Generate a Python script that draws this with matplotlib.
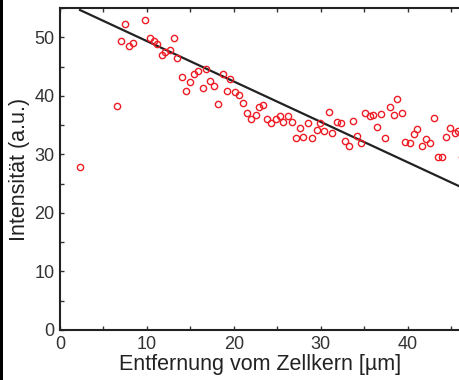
import matplotlib
matplotlib.use("Agg")
import matplotlib.pyplot as plt
from matplotlib.patches import Rectangle
from matplotlib.ticker import MultipleLocator
import numpy as np

plt.rcParams['font.family'] = ['Liberation Sans', 'DejaVu Sans']

# Data
dist_um = [2.3, 6.5, 7.0, 7.5, 7.9, 8.4, 9.8, 10.3, 10.8, 11.2, 11.7, 12.1, 12.6, 13.1,
           13.5, 14.0, 14.5, 14.9, 15.4, 15.9, 16.4, 16.8, 17.3, 17.7, 18.2, 18.7, 19.2,
           19.6, 20.1, 20.6, 21.0, 21.5, 22.0, 22.5, 22.9, 23.4, 23.8, 24.3, 24.8, 25.3,
           25.7, 26.2, 26.7, 27.1, 27.6, 28.0, 28.5, 29.0, 29.5, 29.9, 30.4, 30.9, 31.3,
           31.8, 32.3, 32.8, 33.2, 33.7, 34.1, 34.6, 35.1, 35.6, 36.0, 36.5, 36.9, 37.4,
           37.9, 38.4, 38.8, 39.3, 39.7, 40.2, 40.7, 41.1, 41.6, 42.1, 42.6, 43.0, 43.5,
           43.9, 44.4, 44.9, 45.4, 45.8, 46.2]
intensity = [27.8, 38.2, 49.4, 52.3, 48.5, 49.1, 52.9, 49.9, 49.3, 48.9, 46.9, 47.5, 47.8, 49.8,
             46.5, 43.2, 40.8, 42.3, 43.8, 44.3, 41.3, 44.5, 42.5, 41.7, 38.6, 43.8, 40.9,
             42.9, 40.6, 40.2, 38.7, 37.1, 36.1, 36.7, 38.1, 38.4, 36.1, 35.4, 36.0, 36.6,
             35.5, 36.5, 35.5, 32.8, 34.5, 32.9, 35.3, 32.8, 34.1, 35.3, 34.0, 37.3, 33.7,
             35.5, 35.3, 32.3, 31.5, 35.7, 33.1, 32.0, 37.0, 36.6, 36.8, 34.6, 36.9, 32.8,
             38.1, 36.7, 39.5, 37.0, 32.1, 32.0, 33.5, 34.3, 31.5, 32.6, 32.0, 36.2, 29.5,
             29.5, 33.0, 34.5, 33.7, 34.0, 29.5]

fit_slope = -0.69
fit_intercept = 56.24
fit_range = [2.3, 50.0]

x_ticks = [0, 10, 20, 30, 40]
y_ticks = [0, 10, 20, 30, 40, 50]

fig = plt.figure(figsize=(4.6, 3.8), dpi=100)
ax = fig.add_axes([60/460, 50/380, 1 - 60/460, (330 - 8)/380])

fit_x = np.array(fit_range)
fit_y = fit_intercept + fit_slope * fit_x
ax.plot(fit_x, fit_y, color='#222222', lw=1.6, zorder=2)
ax.plot(dist_um, intensity, linestyle='none', marker='o', markersize=4.5,
        markerfacecolor='none', markeredgecolor='#ee1c24', markeredgewidth=1.0,
        zorder=3, clip_on=True)

ax.set_xlim(0, 46)
ax.set_ylim(0, 55)
ax.set_xticks(x_ticks)
ax.set_yticks(y_ticks)
ax.xaxis.set_minor_locator(MultipleLocator(5))
ax.yaxis.set_minor_locator(MultipleLocator(5))

ax.spines['right'].set_visible(False)
for s in ['left', 'bottom', 'top']:
    ax.spines[s].set_linewidth(1.5)
    ax.spines[s].set_color('#222222')

ax.tick_params(which='both', direction='in', length=3, width=1.0, color='#333333',
               top=True, right=False, labelsize=13, labelcolor='#333333', pad=4)

ax.set_xlabel('Entfernung vom Zellkern [µm]', fontsize=15.5, color='#222222', labelpad=1)
ax.set_ylabel('Intensität (a.u.)', fontsize=15.5, color='#222222', labelpad=3)

fig.patches.append(Rectangle((0, 0), 3/460, 1, transform=fig.transFigure,
                             facecolor='black', edgecolor='none'))

fig.savefig('out.png', dpi=100)
